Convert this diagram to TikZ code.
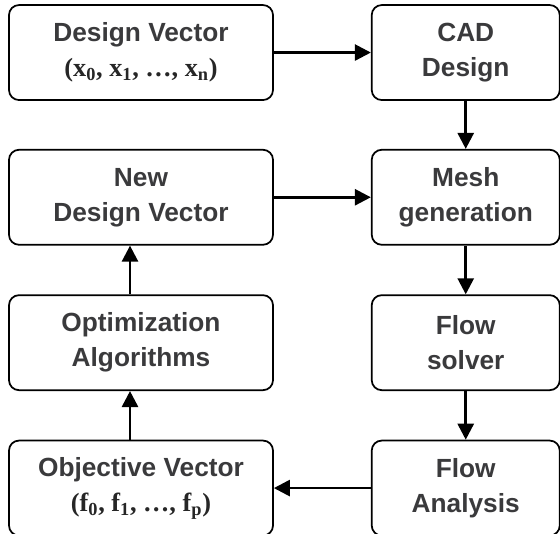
\documentclass[tikz,border=0pt]{standalone}
\usepackage{fontspec}
\setsansfont{Liberation Sans}
\newfontfamily\serifb{Liberation Serif}
\usepackage{xcolor}
\usetikzlibrary{arrows.meta,positioning}

\definecolor{txtgray}{HTML}{3A3A3C}

\begin{document}
\begin{tikzpicture}[
  stage/.style={draw, line width=1.3pt, rounded corners=7.5pt, minimum height=71.25pt,
    align=center, text=txtgray, font=\sffamily\bfseries\fontsize{19.7}{26.25}\selectfont},
  wide/.style={stage, minimum width=198pt},
  narrow/.style={stage, minimum width=141pt},
  arr/.style={-{Triangle[length=12pt,width=12pt]}, line width=2pt},
  vec/.style={font=\serifb\bfseries\fontsize{19}{26.25}\selectfont}
]
\useasboundingbox (0,0) rectangle (420pt,-399.75pt);

\node[wide] (dv) at (105.75pt,-39.4pt) {Design Vector\\{\serifb\color{black!85}(x\textsubscript{0}, x\textsubscript{1}, …, x\textsubscript{n})}};
\node[narrow, right=72.75pt of dv] (cad) {CAD\\Design};
\node[narrow, below=36pt of cad] (mesh) {Mesh\\generation};
\node[narrow, below=36.5pt of mesh] (solver) {Flow\\solver};
\node[narrow, below=36.5pt of solver] (fa) {Flow\\Analysis};
\node[wide, left=72.75pt of mesh] (ndv) {New\\Design Vector};
\node[wide, left=72.75pt of solver] (opt) {Optimization\\Algorithms};
\node[wide, left=72.75pt of fa] (obj) {Objective Vector\\{\serifb\color{black!85}(f\textsubscript{0}, f\textsubscript{1}, …, f\textsubscript{p})}};

% main chain
\draw[arr] (dv) -- (cad);
\draw[arr] (cad) -- (mesh);
\draw[arr] (mesh) -- (solver);
\draw[arr] (solver) -- (fa);
\draw[arr] (fa) -- (obj);

% feedback loop
\draw[arr] ([xshift=-8.25pt]obj.north) -- ([xshift=-8.25pt]opt.south);
\draw[arr] ([xshift=-8.25pt]opt.north) -- ([xshift=-8.25pt]ndv.south);
\draw[arr] (ndv) -- (mesh);
\end{tikzpicture}
\end{document}
